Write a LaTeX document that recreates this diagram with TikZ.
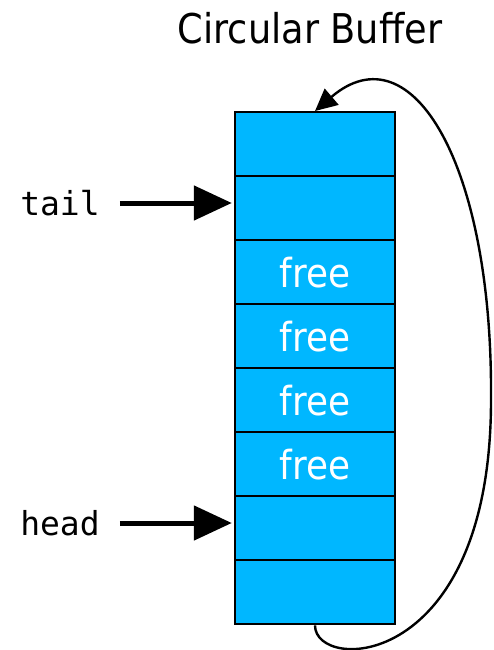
\documentclass[tikz,border=0pt]{standalone}
\usepackage{fontspec}
\setmainfont[FakeStretch=0.895]{DejaVu Sans}
\setmonofont{DejaVu Sans Mono}
\usepackage{tikz}
\usetikzlibrary{arrows.meta,positioning}
\definecolor{slotblue}{RGB}{0,183,255}

\begin{document}
\begin{tikzpicture}[x=1pt,y=-1pt,line join=miter]
    \tikzstyle{slot}=[draw=black,fill=slotblue,line width=2.4pt,minimum width=160pt,minimum height=64pt,inner sep=0pt,anchor=north,text=white,font=\fontsize{40}{40}\selectfont];
    \tikzstyle{annot}=[inner sep=0pt,font=\ttfamily\fontsize{33}{33}\selectfont];
    \tikzstyle{title}=[inner sep=0pt,font=\fontsize{41}{41}\selectfont];
    \tikzstyle{pointer}=[-{Triangle[length=38pt,width=34pt]},line width=5pt,shorten <=20pt,shorten >=2pt];
    \tikzstyle{wrap}=[-{Triangle[length=22pt,width=21pt]},line width=2.4pt];

    \useasboundingbox (0,0) rectangle (493,650);

    % Draw the title
    \node[title] (title) at (310,28) {Circular Buffer};

    % Draw the slots of the buffer
    \foreach \name / \txt in {1/{},2/{},3/free,4/free,5/free,6/free,7/{},8/{}}
    \node[slot] (S-\name) at (315,{111+64*(\name-1)}) {\txt};

    % Draw the pointers
    \node[annot] (tail) at (60,203) {tail};
    \node[annot] (head) at (60,523) {head};
    \path[draw,pointer] (tail) -- (tail -| S-2.west);
    \path[draw,pointer] (head) -- (head -| S-7.west);

    % Wrap around from the last slot to the first
    \draw[wrap] (S-8.south) .. controls (315,673) and (491,672) .. (491,400)
      .. controls (493,165) and (412,28) .. (S-1.north);
\end{tikzpicture}
\end{document}
